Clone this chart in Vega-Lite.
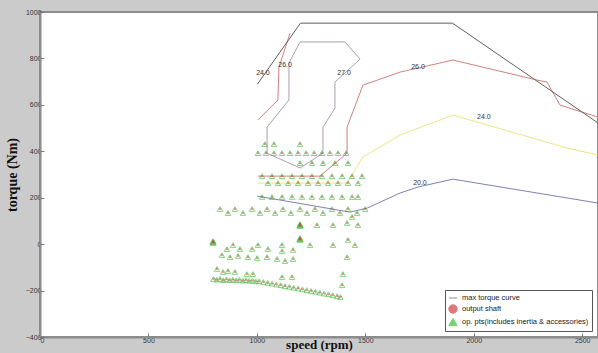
{
  "$schema": "https://vega.github.io/schema/vega-lite/v6.json",
  "width": 558,
  "height": 325,
  "autosize": "none",
  "padding": {"left": 40, "top": 12, "right": 0, "bottom": 16},
  "background": "#cbcbcb",
  "config": {
    "view": {"fill": "white", "stroke": "#8c8c8c", "strokeWidth": 2},
    "axis": {
      "grid": false,
      "domainColor": "#8c8c8c",
      "domainWidth": 2,
      "tickColor": "#777",
      "tickSize": -4,
      "labelFont": "Liberation Sans",
      "labelFontSize": 7,
      "labelColor": "#333",
      "titleFont": "Liberation Serif",
      "titleFontWeight": "bold",
      "titleFontSize": 14,
      "titleColor": "#111"
    },
    "legend": {
      "orient": "bottom-right",
      "offset": 6,
      "strokeColor": "#555",
      "fillColor": "white",
      "padding": 3,
      "labelFont": "Liberation Sans",
      "labelFontSize": 7.5,
      "labelColor": "#222",
      "rowPadding": 0,
      "symbolSize": 70,
      "symbolStrokeWidth": 1
    }
  },
  "datasets": {
    "contours": [
      {"c": "c27", "i": 1, "rpm": 1047, "torque": 392},
      {"c": "c27", "i": 2, "rpm": 1047, "torque": 504},
      {"c": "c27", "i": 3, "rpm": 1148, "torque": 621},
      {"c": "c27", "i": 4, "rpm": 1148, "torque": 780},
      {"c": "c27", "i": 5, "rpm": 1199, "torque": 871},
      {"c": "c27", "i": 6, "rpm": 1406, "torque": 871},
      {"c": "c27", "i": 7, "rpm": 1476, "torque": 797},
      {"c": "c27", "i": 8, "rpm": 1360, "torque": 698},
      {"c": "c27", "i": 9, "rpm": 1360, "torque": 586},
      {"c": "c27", "i": 10, "rpm": 1305, "torque": 504},
      {"c": "c27", "i": 11, "rpm": 1305, "torque": 392},
      {"c": "c27", "i": 12, "rpm": 1199, "torque": 328},
      {"c": "c27", "i": 13, "rpm": 1047, "torque": 392},
      {"c": "c26a", "i": 1, "rpm": 1005, "torque": 535},
      {"c": "c26a", "i": 2, "rpm": 1097, "torque": 621},
      {"c": "c26a", "i": 3, "rpm": 1102, "torque": 763},
      {"c": "c26a", "i": 4, "rpm": 1153, "torque": 909},
      {"c": "c26b", "i": 1, "rpm": 1005, "torque": 293},
      {"c": "c26b", "i": 2, "rpm": 1291, "torque": 293},
      {"c": "c26b", "i": 3, "rpm": 1416, "torque": 392},
      {"c": "c26b", "i": 4, "rpm": 1416, "torque": 504},
      {"c": "c26b", "i": 5, "rpm": 1489, "torque": 685},
      {"c": "c26b", "i": 6, "rpm": 1660, "torque": 741},
      {"c": "c26b", "i": 7, "rpm": 1904, "torque": 793},
      {"c": "c26b", "i": 8, "rpm": 2292, "torque": 707},
      {"c": "c26b", "i": 9, "rpm": 2338, "torque": 698},
      {"c": "c26b", "i": 10, "rpm": 2398, "torque": 599},
      {"c": "c26b", "i": 11, "rpm": 2573, "torque": 547},
      {"c": "c24", "i": 1, "rpm": 1005, "torque": 263},
      {"c": "c24", "i": 2, "rpm": 1416, "torque": 263},
      {"c": "c24", "i": 3, "rpm": 1489, "torque": 375},
      {"c": "c24", "i": 4, "rpm": 1660, "torque": 470},
      {"c": "c24", "i": 5, "rpm": 1904, "torque": 556},
      {"c": "c24", "i": 6, "rpm": 2430, "torque": 414},
      {"c": "c24", "i": 7, "rpm": 2573, "torque": 384},
      {"c": "c20", "i": 1, "rpm": 1001, "torque": 207},
      {"c": "c20", "i": 2, "rpm": 1429, "torque": 138},
      {"c": "c20", "i": 3, "rpm": 1508, "torque": 155},
      {"c": "c20", "i": 4, "rpm": 1660, "torque": 220},
      {"c": "c20", "i": 5, "rpm": 1743, "torque": 246},
      {"c": "c20", "i": 6, "rpm": 1904, "torque": 280},
      {"c": "c20", "i": 7, "rpm": 2573, "torque": 177}
    ],
    "maxtorque": [
      {"i": 1, "rpm": 1003, "torque": 690},
      {"i": 2, "rpm": 1201, "torque": 952},
      {"i": 3, "rpm": 1902, "torque": 952},
      {"i": 4, "rpm": 2573, "torque": 522}
    ],
    "labels": [
      {"rpm": 1028, "torque": 737, "t": "24.0"},
      {"rpm": 1130, "torque": 771, "t": "26.0"},
      {"rpm": 1402, "torque": 737, "t": "27.0"},
      {"rpm": 1743, "torque": 763, "t": "26.0"},
      {"rpm": 2047, "torque": 547, "t": "24.0"},
      {"rpm": 1752, "torque": 263, "t": "20.0"}
    ],
    "pts": [
      {"rpm": 1037, "torque": 431}, {"rpm": 1079, "torque": 431}, {"rpm": 1199, "torque": 431},
      {"rpm": 1005, "torque": 392}, {"rpm": 1042, "torque": 392}, {"rpm": 1079, "torque": 392}, {"rpm": 1116, "torque": 392}, {"rpm": 1153, "torque": 392}, {"rpm": 1190, "torque": 392}, {"rpm": 1227, "torque": 392}, {"rpm": 1264, "torque": 392}, {"rpm": 1300, "torque": 392}, {"rpm": 1337, "torque": 392}, {"rpm": 1374, "torque": 392}, {"rpm": 1411, "torque": 392},
      {"rpm": 1199, "torque": 349}, {"rpm": 1254, "torque": 349}, {"rpm": 1305, "torque": 349}, {"rpm": 1360, "torque": 349}, {"rpm": 1420, "torque": 349},
      {"rpm": 1024, "torque": 293}, {"rpm": 1070, "torque": 293}, {"rpm": 1116, "torque": 293}, {"rpm": 1162, "torque": 293}, {"rpm": 1208, "torque": 293}, {"rpm": 1254, "torque": 293}, {"rpm": 1300, "torque": 293}, {"rpm": 1346, "torque": 293}, {"rpm": 1393, "torque": 293}, {"rpm": 1439, "torque": 293}, {"rpm": 1485, "torque": 293},
      {"rpm": 1051, "torque": 263}, {"rpm": 1097, "torque": 263}, {"rpm": 1144, "torque": 263}, {"rpm": 1190, "torque": 263}, {"rpm": 1236, "torque": 263}, {"rpm": 1282, "torque": 263}, {"rpm": 1328, "torque": 263}, {"rpm": 1374, "torque": 263}, {"rpm": 1420, "torque": 263}, {"rpm": 1466, "torque": 263},
      {"rpm": 1024, "torque": 203}, {"rpm": 1070, "torque": 203}, {"rpm": 1116, "torque": 203}, {"rpm": 1162, "torque": 203}, {"rpm": 1208, "torque": 203}, {"rpm": 1254, "torque": 203}, {"rpm": 1300, "torque": 203}, {"rpm": 1346, "torque": 203}, {"rpm": 1393, "torque": 203}, {"rpm": 1439, "torque": 203}, {"rpm": 1466, "torque": 203},
      {"rpm": 830, "torque": 151}, {"rpm": 867, "torque": 134}, {"rpm": 899, "torque": 151}, {"rpm": 936, "torque": 134}, {"rpm": 978, "torque": 151}, {"rpm": 1014, "torque": 134}, {"rpm": 1047, "torque": 151}, {"rpm": 1084, "torque": 134}, {"rpm": 1120, "torque": 151}, {"rpm": 1157, "torque": 134}, {"rpm": 1199, "torque": 151}, {"rpm": 1231, "torque": 134}, {"rpm": 1268, "torque": 151}, {"rpm": 1305, "torque": 134}, {"rpm": 1346, "torque": 151}, {"rpm": 1383, "torque": 134}, {"rpm": 1420, "torque": 151}, {"rpm": 1462, "torque": 134}, {"rpm": 1499, "torque": 151},
      {"rpm": 1439, "torque": 117}, {"rpm": 1199, "torque": 82}, {"rpm": 1199, "torque": 87}, {"rpm": 1197, "torque": 79}, {"rpm": 1201, "torque": 79}, {"rpm": 1277, "torque": 82}, {"rpm": 1351, "torque": 82}, {"rpm": 1416, "torque": 91}, {"rpm": 1466, "torque": 82},
      {"rpm": 1199, "torque": 22}, {"rpm": 1199, "torque": 27}, {"rpm": 1197, "torque": 19}, {"rpm": 1201, "torque": 19},
      {"rpm": 798, "torque": 9}, {"rpm": 798, "torque": 14}, {"rpm": 796, "torque": 6}, {"rpm": 800, "torque": 6},
      {"rpm": 862, "torque": -21}, {"rpm": 890, "torque": -4}, {"rpm": 922, "torque": -21}, {"rpm": 978, "torque": -21}, {"rpm": 1005, "torque": -4}, {"rpm": 1051, "torque": -21}, {"rpm": 1116, "torque": -4}, {"rpm": 1116, "torque": -30}, {"rpm": 1167, "torque": -25}, {"rpm": 1245, "torque": -4}, {"rpm": 1351, "torque": -4}, {"rpm": 1420, "torque": 18}, {"rpm": 1452, "torque": -4},
      {"rpm": 839, "torque": -47}, {"rpm": 876, "torque": -56}, {"rpm": 913, "torque": -51}, {"rpm": 959, "torque": -56}, {"rpm": 1001, "torque": -60}, {"rpm": 1047, "torque": -56}, {"rpm": 1093, "torque": -64}, {"rpm": 1130, "torque": -73}, {"rpm": 1167, "torque": -64}, {"rpm": 1416, "torque": -56},
      {"rpm": 816, "torque": -107}, {"rpm": 844, "torque": -120}, {"rpm": 867, "torque": -116}, {"rpm": 899, "torque": -120}, {"rpm": 954, "torque": -129}, {"rpm": 982, "torque": -129}, {"rpm": 1116, "torque": -142}, {"rpm": 1162, "torque": -142}, {"rpm": 1397, "torque": -129}, {"rpm": 1393, "torque": -177},
      {"rpm": 800, "torque": -150}, {"rpm": 815, "torque": -153}, {"rpm": 830, "torque": -150}, {"rpm": 845, "torque": -155}, {"rpm": 860, "torque": -152}, {"rpm": 875, "torque": -155}, {"rpm": 890, "torque": -153}, {"rpm": 905, "torque": -156}, {"rpm": 920, "torque": -154}, {"rpm": 935, "torque": -157}, {"rpm": 950, "torque": -155}, {"rpm": 965, "torque": -158}, {"rpm": 980, "torque": -157}, {"rpm": 995, "torque": -160}, {"rpm": 1010, "torque": -160}, {"rpm": 1030, "torque": -163}, {"rpm": 1050, "torque": -167}, {"rpm": 1070, "torque": -170}, {"rpm": 1090, "torque": -174}, {"rpm": 1110, "torque": -177}, {"rpm": 1130, "torque": -181}, {"rpm": 1150, "torque": -184}, {"rpm": 1170, "torque": -188}, {"rpm": 1190, "torque": -191}, {"rpm": 1210, "torque": -195}, {"rpm": 1230, "torque": -198}, {"rpm": 1250, "torque": -202}, {"rpm": 1270, "torque": -205}, {"rpm": 1290, "torque": -209}, {"rpm": 1310, "torque": -213}, {"rpm": 1330, "torque": -216}, {"rpm": 1350, "torque": -220}, {"rpm": 1370, "torque": -224}, {"rpm": 1385, "torque": -228}
    ]
  },
  "layer": [
    {
      "data": {"name": "contours"},
      "mark": {"type": "line", "strokeWidth": 1, "opacity": 0.85},
      "encoding": {
        "x": {"field": "rpm", "type": "quantitative", "scale": {"domain": [0, 2573], "nice": false}, "axis": {"values": [0, 500, 1000, 1500, 2000, 2500], "format": "d", "title": "speed (rpm)", "titleFontSize": 13, "labelPadding": 3, "titlePadding": -5}},
        "y": {"field": "torque", "type": "quantitative", "scale": {"domain": [-400, 1000], "nice": false}, "axis": {"values": [-400, -200, 0, 200, 400, 600, 800, 1000], "format": "d", "title": "torque (Nm)", "labelPadding": 3, "titlePadding": 6}},
        "order": {"field": "i"},
        "stroke": {"field": "c", "type": "nominal", "scale": {"domain": ["c27", "c26a", "c26b", "c24", "c20"], "range": ["#a08ca0", "#c86a6a", "#c86a6a", "#e6e070", "#6a6aa8"]}, "legend": null}
      }
    },
    {
      "data": {"name": "maxtorque"},
      "mark": {"type": "line", "strokeWidth": 1},
      "encoding": {
        "x": {"field": "rpm", "type": "quantitative"},
        "y": {"field": "torque", "type": "quantitative"},
        "order": {"field": "i"},
        "color": {"datum": "max torque curve", "type": "nominal", "scale": {"domain": ["max torque curve", "output shaft", "op. pts(includes inertia & accessories)"], "range": ["#606060", "#d04040", "#3cc03c"]}, "title": null}
      }
    },
    {
      "data": {"name": "pts"},
      "mark": {"type": "point", "filled": false, "strokeWidth": 0.9, "size": 30},
      "encoding": {
        "x": {"field": "rpm", "type": "quantitative"},
        "y": {"field": "torque", "type": "quantitative"},
        "color": {"datum": "op. pts(includes inertia & accessories)", "type": "nominal", "title": null},
        "shape": {"datum": "op. pts(includes inertia & accessories)", "type": "nominal", "scale": {"domain": ["max torque curve", "output shaft", "op. pts(includes inertia & accessories)"], "range": ["stroke", "circle", "triangle-up"]}, "title": null}
      }
    },
    {
      "data": {"name": "pts"},
      "mark": {"type": "point", "filled": true, "opacity": 0.6, "size": 5},
      "encoding": {
        "x": {"field": "rpm", "type": "quantitative"},
        "y": {"field": "torque", "type": "quantitative"},
        "color": {"datum": "output shaft", "type": "nominal", "title": null},
        "shape": {"datum": "output shaft", "type": "nominal", "title": null}
      }
    },
    {
      "data": {"name": "labels"},
      "mark": {"type": "text", "font": "Liberation Sans", "fontSize": 7, "color": "#333"},
      "encoding": {
        "x": {"field": "rpm", "type": "quantitative"},
        "y": {"field": "torque", "type": "quantitative"},
        "text": {"field": "t"}
      }
    }
  ]
}
